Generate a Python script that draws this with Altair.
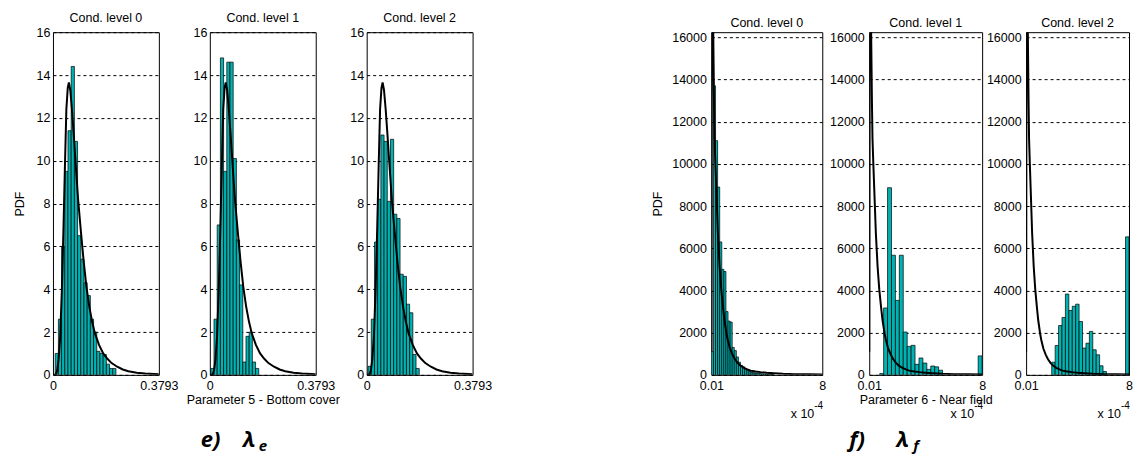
import altair as alt
import pandas as pd

TEAL = "#00B3B3"
FONT = "Liberation Sans"

# ---------------- data ----------------
TITLES = ["Cond. level 0", "Cond. level 1", "Cond. level 2"]

# Parameter 5 - prior PDF curve (same in the three panels)
L_CURVE_X = [0.0, 0.01, 0.015, 0.02, 0.026, 0.032, 0.038, 0.043, 0.048, 0.053, 0.057,
             0.062, 0.068, 0.074, 0.08, 0.09, 0.1, 0.11, 0.12, 0.13, 0.14, 0.15, 0.165,
             0.18, 0.195, 0.21, 0.23, 0.25, 0.27, 0.3, 0.33, 0.3793]
L_CURVE_Y = [0, 0, 0.2, 0.7, 1.8, 4.0, 7.0, 9.8, 12.4, 13.4, 13.65, 13.3, 12.4, 11.3,
             10.1, 8.2, 6.7, 5.3, 4.1, 3.2, 2.5, 1.95, 1.4, 1.0, 0.75, 0.55, 0.38, 0.25,
             0.17, 0.1, 0.06, 0.03]

L_BIN_W = 0.01145
P1_START = [0.008, 0.0195, 0.0309, 0.0424, 0.0538, 0.0653, 0.0767, 0.0882, 0.0996, 0.1111,
            0.1225, 0.134, 0.1454, 0.1569, 0.1683, 0.1798, 0.1912, 0.2027, 0.2141]
P1_H = [1.0, 2.6, 6.0, 9.5, 11.4, 14.4, 10.9, 6.5, 5.4, 4.3, 3.7, 2.6, 2.0, 1.1, 1.0,
        0.95, 0.5, 0.3, 0.3]
P2_START = [0.0035, 0.015, 0.0264, 0.0379, 0.0493, 0.0608, 0.0722, 0.0837, 0.0951, 0.1066,
            0.118, 0.1295, 0.1409, 0.1524, 0.1638]
P2_H = [0.3, 2.6, 7.0, 14.8, 9.5, 14.6, 14.6, 10.1, 6.3, 4.2, 0.6, 1.8, 2.0, 0.6, 0.3]
P3_START = [0.005, 0.0165, 0.0279, 0.0394, 0.0508, 0.0623, 0.0737, 0.0852, 0.0966, 0.1081,
            0.1195, 0.131, 0.1424, 0.1539, 0.1653, 0.1768]
P3_H = [0.4, 2.6, 6.2, 8.2, 11.2, 10.9, 8.1, 11.0, 7.5, 7.3, 4.7, 4.6, 3.3, 2.9, 0.95, 0.3]

# Parameter 6 - prior PDF curve (x in units of 1e-4)
R_CURVE_X = [0.01, 0.03, 0.06, 0.1, 0.14, 0.2, 0.24, 0.3, 0.36, 0.48, 0.6, 0.72, 0.85, 0.95,
             1.1, 1.19, 1.35, 1.54, 1.7, 1.9, 2.1, 2.36, 2.6, 2.84, 3.2, 3.55, 4.0, 4.5,
             5.17, 6.0, 7.0, 8.0]
R_CURVE_Y = [1100, 12000, 30000, 25000, 16500, 13000, 11200, 10000, 8900, 6700, 5150, 4050,
             3200, 2600, 1950, 1650, 1250, 950, 750, 570, 440, 330, 260, 200, 160, 130, 100,
             75, 50, 35, 25, 18]

P4_W = 0.15
P4_START = [0.01, 0.16, 0.31, 0.46, 0.61, 0.76, 0.91, 1.06, 1.21, 1.36, 1.51, 1.66, 1.81,
            1.96, 2.11, 2.26, 2.41, 2.56, 2.71, 2.86, 3.01, 3.16, 3.31, 3.46, 3.61, 3.76,
            3.91, 4.06, 4.21, 4.36]
P4_H = [1100, 13700, 11100, 8900, 6300, 5000, 4900, 3000, 2550, 2500, 1300, 1150, 850, 600,
        450, 380, 300, 220, 160, 120, 100, 90, 80, 60, 50, 40, 40, 30, 30, 20]
P5_W = 0.278
P5_START = [0.75, 1.028, 1.306, 1.584, 1.862, 2.14, 2.418, 2.696, 2.974, 3.252, 3.53, 3.808,
            4.086, 4.364, 4.642, 4.92, 7.72]
P5_H = [60, 3170, 8870, 5670, 3530, 5670, 2030, 1350, 1400, 500, 800, 560, 260, 420, 380,
        220, 900]
P6_W = 0.2656
P6_START = [2.0, 2.266, 2.531, 2.797, 3.062, 3.328, 3.594, 3.859, 4.125, 4.391, 4.656, 4.922,
            5.188, 5.453, 5.719, 5.984, 7.73]
P6_H = [600, 1390, 2340, 2720, 3830, 3050, 3250, 3350, 2530, 1270, 1500, 2060, 1190, 950,
        430, 160, 6540]

L_XTICKS = [0, 0.3793]
L_YTICKS = [0, 2, 4, 6, 8, 10, 12, 14, 16]
R_XTICKS = [0.01, 8]
R_YTICKS = [0, 2000, 4000, 6000, 8000, 10000, 12000, 14000, 16000]

XTITLE_5 = "Parameter 5 - Bottom cover"
XTITLE_6 = "Parameter 6 - Near field"
EXP_MAIN = "x 10"
EXP_SUP = "-4"
CAP_E = ["e)", "λ", "e"]
CAP_F = ["f)", "λ", "f"]

H = 343


def panel(title, starts, heights, binw, cx, cy, xdom, xvals, ydom, yvals, w,
          ytitle, ylabpad, ytitlepad, xtitle, extras=()):
    bars_df = pd.DataFrame({"x": starts, "x2": [s + binw for s in starts], "y": heights})
    curve_df = pd.DataFrame({"x": cx, "y": cy})
    xenc = alt.X("x:Q",
                 scale=alt.Scale(domain=xdom, nice=False, zero=False),
                 axis=alt.Axis(values=xvals, labelExpr="toString(datum.value)",
                               grid=False, ticks=False,
                               domain=False, labelFlush=False, labelPadding=5,
                               title=xtitle, titlePadding=1))
    yenc = alt.Y("y:Q",
                 scale=alt.Scale(domain=ydom, nice=False, zero=True),
                 axis=alt.Axis(values=yvals, format="d", grid=True, gridDash=[3, 3],
                               gridColor="black", gridWidth=1, gridOpacity=1,
                               ticks=False, domain=False, labelPadding=ylabpad,
                               title=ytitle, titlePadding=ytitlepad))
    bars = alt.Chart(bars_df).mark_bar(fill=TEAL, stroke="black", strokeWidth=0.7,
                                       clip=True).encode(x=xenc, x2="x2", y=yenc,
                                                         y2=alt.datum(0))
    curve = alt.Chart(curve_df).mark_line(color="black", strokeWidth=2,
                                          clip=True).encode(x="x:Q", y="y:Q")
    layers = [bars, curve] + list(extras)
    return alt.layer(*layers).properties(
        width=w, height=H,
        title=alt.TitleParams(title, fontSize=12.5, font=FONT, fontWeight="normal",
                              color="black", anchor="middle", frame="group",
                              offset=2))


def exponent_marks():
    df = pd.DataFrame({"x": [8], "y": [0]})
    main = alt.Chart(df).mark_text(text=EXP_MAIN, align="right", baseline="alphabetic",
                                   dx=-8, dy=43, fontSize=12.5, font=FONT,
                                   color="black").encode(x="x:Q", y="y:Q")
    sup = alt.Chart(df).mark_text(text=EXP_SUP, align="left", baseline="alphabetic",
                                  dx=-8, dy=34, fontSize=10, font=FONT,
                                  color="black").encode(x="x:Q", y="y:Q")
    return [main, sup]


def caption(parts, x0, xl, xs):
    df = pd.DataFrame({"t": [0]})
    a = alt.Chart(df).mark_text(text=parts[0], align="left", baseline="alphabetic",
                                font="Open Sans", fontStyle="italic", fontWeight="bold",
                                fontSize=22, color="black"
                                ).encode(x=alt.value(x0), y=alt.value(415))
    b = alt.Chart(df).mark_text(text=parts[1], align="left", baseline="alphabetic",
                                font="Open Sans", fontStyle="italic", fontWeight="bold",
                                fontSize=22, color="black"
                                ).encode(x=alt.value(xl), y=alt.value(415))
    c = alt.Chart(df).mark_text(text=parts[2], align="left", baseline="alphabetic",
                                font="Open Sans", fontStyle="italic", fontWeight="bold",
                                fontSize=15, color="black"
                                ).encode(x=alt.value(xs), y=alt.value(419))
    return [a, b, c]


def spacer(w):
    return alt.Chart(pd.DataFrame({"s": [0]})).mark_point(opacity=0).properties(
        width=w, height=H, view=alt.ViewBackground(strokeOpacity=0))


LX = [0, 0.3793]
LY = [0, 16]
RX = [0.01, 8]
RY = [0, 16240]

p1 = panel(TITLES[0], P1_START, P1_H, L_BIN_W, L_CURVE_X, L_CURVE_Y, LX, L_XTICKS, LY,
           L_YTICKS, 106, "PDF", 3, 10, "")
p2 = panel(TITLES[1], P2_START, P2_H, L_BIN_W, L_CURVE_X, L_CURVE_Y, LX, L_XTICKS, LY,
           L_YTICKS, 106, "", 3, 10, XTITLE_5, caption(CAP_E, -9, 33, 49))
p3 = panel(TITLES[2], P3_START, P3_H, L_BIN_W, L_CURVE_X, L_CURVE_Y, LX, L_XTICKS, LY,
           L_YTICKS, 106, "", 3, 10, "")
p4 = panel(TITLES[0], P4_START, P4_H, P4_W, R_CURVE_X, R_CURVE_Y, RX, R_XTICKS, RY,
           R_YTICKS, 111, "PDF", 5, 7, "", exponent_marks())
p5 = panel(TITLES[1], P5_START, P5_H, P5_W, R_CURVE_X, R_CURVE_Y, RX, R_XTICKS, RY,
           R_YTICKS, 113, "", 5, 7, XTITLE_6,
           exponent_marks() + caption(CAP_F, -20, 27, 44))
p6 = panel(TITLES[2], P6_START, P6_H, P6_W, R_CURVE_X, R_CURVE_Y, RX, R_XTICKS, RY,
           R_YTICKS, 103, "", 5, 7, "", exponent_marks())

chart = alt.hconcat(
    p1, spacer(51), p2, spacer(51), p3, spacer(239), p4, spacer(47), p5, spacer(44), p6,
    spacing=0, bounds="flush"
).properties(
    padding={"left": 4, "top": 3, "right": 0, "bottom": 0}
).configure_axis(
    labelFont=FONT, labelFontSize=12.5, labelColor="black",
    titleFont=FONT, titleFontSize=12.5, titleFontWeight="normal", titleColor="black"
).configure_view(
    stroke="black", strokeWidth=1
)

chart.save("out.html", embed_options={"renderer": "svg", "actions": False})
